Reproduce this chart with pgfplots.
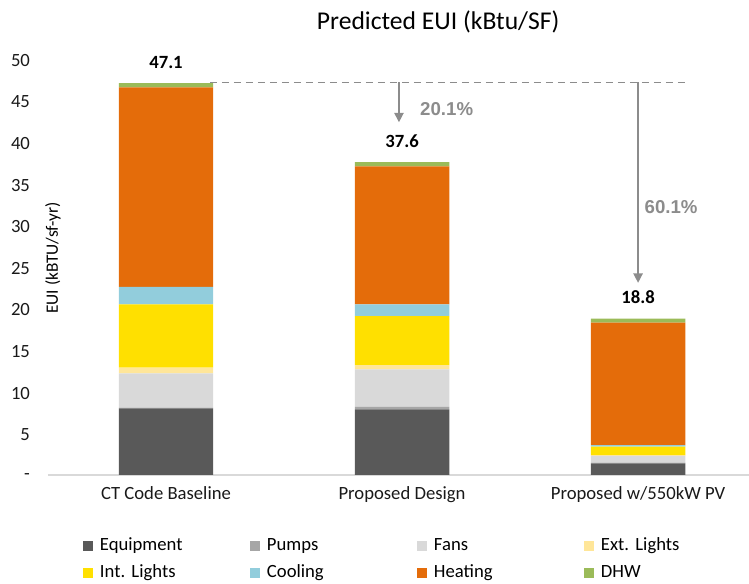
\documentclass[border=0pt]{standalone}
\usepackage{fontspec}
\setmainfont{Carlito}
\newfontfamily\arialfont{Liberation Sans}
\usepackage{pgfplots}
\pgfplotsset{compat=1.18}
\usetikzlibrary{arrows.meta}
\frenchspacing
\definecolor{cEquip}{HTML}{595959}
\definecolor{cPump}{HTML}{A6A6A6}
\definecolor{cFan}{HTML}{D9D9D9}
\definecolor{cExt}{HTML}{FFE699}
\definecolor{cInt}{HTML}{FFE000}
\definecolor{cCool}{HTML}{92CDDC}
\definecolor{cHeat}{HTML}{E46C0A}
\definecolor{cDHW}{HTML}{9BBB59}
\definecolor{cAnn}{HTML}{8C8C8C}
\begin{document}
\frenchspacing
\begin{tikzpicture}
\useasboundingbox (-36pt,-81.75pt) rectangle (525.75pt,356.25pt);
\begin{axis}[
  at={(0,0)}, anchor=south west,
  scale only axis, width=525.75pt, height=312pt,
  ybar stacked, bar width=0.4,
  xmin=-0.5, xmax=2.47, ymin=0, ymax=50,
  clip=false,
  axis lines=left, axis line style={-},
  y axis line style={draw=none},
  x axis line style={draw=black!15, line width=1pt},
  major tick length=0pt, tick style={draw=none},
  xtick={0,1,2},
  xticklabels={CT Code Baseline, Proposed Design, Proposed w/550kW PV},
  ytick={0,5,...,50},
  yticklabels={-,5,10,15,20,25,30,35,40,45,50},
  ticklabel style={font=\fontsize{14}{16}\selectfont, text=black!90},
  xticklabel style={yshift=-5pt},
  yticklabel style={xshift=-10pt, yshift=-1pt},
  seg/.style={fill=#1, draw=none,
    legend image code/.code={\fill[fill=#1] (0pt,-3.75pt) rectangle (7.5pt,3.75pt); \path (12.75pt,0pt);}},
  legend columns=4,
  legend style={at={(0.0499,-0.203)}, anchor=west, draw=none, inner sep=0pt, outer sep=0pt,
    font=\fontsize{14}{16}\selectfont\frenchspacing, row sep=3pt,
    nodes={inner xsep=0pt, inner ysep=2pt, text width=112.5pt, align=left, anchor=west, text height=10pt, text depth=3pt}},
]
\addplot+[seg=cEquip] coordinates {(0,8.0) (1,7.9) (2,1.4)};
\addlegendentry{Equipment}
\addplot+[seg=cPump] coordinates {(0,0.1) (1,0.3) (2,0.1)};
\addlegendentry{Pumps}
\addplot+[seg=cFan] coordinates {(0,4.1) (1,4.5) (2,0.8)};
\addlegendentry{Fans}
\addplot+[seg=cExt] coordinates {(0,0.7) (1,0.5) (2,0.1)};
\addlegendentry{Ext. Lights}
\addplot+[seg=cInt] coordinates {(0,7.6) (1,5.9) (2,1.0)};
\addlegendentry{Int. Lights}
\addplot+[seg=cCool] coordinates {(0,2.1) (1,1.4) (2,0.2)};
\addlegendentry{Cooling}
\addplot+[seg=cHeat] coordinates {(0,24.0) (1,16.6) (2,14.7)};
\addlegendentry{Heating}
\addplot+[seg=cDHW] coordinates {(0,0.5) (1,0.5) (2,0.5)};
\addlegendentry{DHW}
% totals
\node[font=\bfseries\fontsize{14}{16}\selectfont] at (axis cs:0,49.6) {47.1};
\node[font=\bfseries\fontsize{14}{16}\selectfont] at (axis cs:1,40.1) {37.6};
\node[font=\bfseries\fontsize{14}{16}\selectfont] at (axis cs:2,21.4) {18.8};
% annotations
\draw[cAnn, line width=1pt, dash pattern=on 5pt off 4pt] (axis cs:0.186,47.2) -- (axis cs:2.2,47.2);
\draw[cAnn, line width=1pt, -{Triangle[length=7pt,width=7pt]}] (axis cs:0.987,47.2) -- (axis cs:0.987,42.4);
\draw[cAnn, line width=1pt, -{Triangle[length=7pt,width=7pt]}] (axis cs:2.0,47.2) -- (axis cs:2.0,23.1);
\node[font=\arialfont\bfseries\fontsize{14}{16}\selectfont, text=cAnn] at (axis cs:1.189,44.0) {20.1\%};
\node[font=\arialfont\bfseries\fontsize{14}{16}\selectfont, text=cAnn] at (axis cs:2.14,32.2) {60.1\%};
% title and y label
\node[font=\fontsize{19.2}{23}\selectfont] at (axis cs:1.153,54.4) {Predicted EUI (kBtu/SF)};
\node[rotate=90, font=\fontsize{13}{15}\selectfont] at ([xshift=3.75pt]axis cs:-0.5,26.1) {EUI (kBTU/sf-yr)};
\end{axis}
\end{tikzpicture}
\end{document}
